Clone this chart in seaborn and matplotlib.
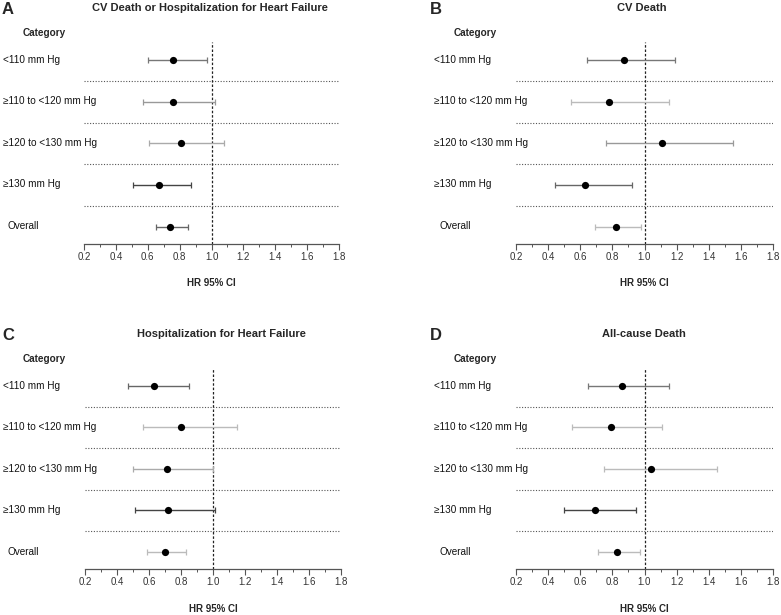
import matplotlib
matplotlib.use("Agg")
import matplotlib.pyplot as plt
import seaborn as sns
import pandas as pd
from matplotlib.ticker import MultipleLocator

categories = ["<110 mm Hg", "≥110 to <120 mm Hg", "≥120 to <130 mm Hg", "≥130 mm Hg", "Overall"]

panel_letters = ["A", "B", "C", "D"]
panel_titles = ["CV Death or Hospitalization for Heart Failure", "CV Death",
                "Hospitalization for Heart Failure", "All-cause Death"]

hr_a = [0.76, 0.76, 0.81, 0.67, 0.74]
lo_a = [0.60, 0.57, 0.61, 0.51, 0.65]
hi_a = [0.97, 1.02, 1.08, 0.87, 0.85]

hr_b = [0.87, 0.78, 1.11, 0.63, 0.82]
lo_b = [0.64, 0.54, 0.76, 0.44, 0.69]
hi_b = [1.19, 1.15, 1.55, 0.92, 0.98]

hr_c = [0.63, 0.80, 0.71, 0.72, 0.70]
lo_c = [0.47, 0.56, 0.50, 0.51, 0.59]
hi_c = [0.85, 1.15, 1.00, 1.01, 0.83]

hr_d = [0.86, 0.79, 1.04, 0.69, 0.83]
lo_d = [0.65, 0.55, 0.75, 0.50, 0.71]
hi_d = [1.15, 1.11, 1.45, 0.95, 0.97]

x_ticks = [0.2, 0.4, 0.6, 0.8, 1.0, 1.2, 1.4, 1.6, 1.8]
x_label = "HR 95% CI"
cat_header = "Category"

# style: CI line shades per panel
ci_colors = [
    ["#777777", "#999999", "#aaaaaa", "#444444", "#666666"],
    ["#777777", "#bbbbbb", "#999999", "#666666", "#bbbbbb"],
    ["#666666", "#bbbbbb", "#aaaaaa", "#444444", "#bbbbbb"],
    ["#777777", "#bbbbbb", "#bbbbbb", "#444444", "#bbbbbb"],
]

sns.set_theme(style="white")
plt.rcParams["font.family"] = ["Liberation Sans", "DejaVu Sans"]

W, H = 781, 615
fig = plt.figure(figsize=(W / 100, H / 100), dpi=100)

def fx(px):
    return px / W

def fy(py):
    return 1 - py / H

panels = [
    dict(x0=84, x1=339, yt=42, yb=244, lab_x=3, let_x=2, tcx=210, yo=0),
    dict(x0=516, x1=773, yt=42, yb=244, lab_x=434, let_x=430, tcx=642, yo=0),
    dict(x0=85, x1=341, yt=368, yb=569, lab_x=3, let_x=2, tcx=221, yo=326),
    dict(x0=516, x1=773, yt=368, yb=569, lab_x=434, let_x=430, tcx=644, yo=326),
]

data = [(hr_a, lo_a, hi_a), (hr_b, lo_b, hi_b), (hr_c, lo_c, hi_c), (hr_d, lo_d, hi_d)]

for i, (g, (hr, lo, hi)) in enumerate(zip(panels, data)):
    ax = fig.add_axes([fx(g["x0"]), fy(g["yb"]), fx(g["x1"] - g["x0"]), (g["yb"] - g["yt"]) / H])
    df = pd.DataFrame({"cat": categories, "pos": range(len(categories)), "hr": hr, "lo": lo, "hi": hi})
    ax.set_xlim(0.2, 1.8)
    ax.set_ylim(4.41, -0.43)
    for k in range(len(categories) - 1):
        ax.axhline(k + 0.5, color="#555555", lw=0.8, ls=(0, (1, 1.5)), zorder=1)
    ax.axvline(1.0, color="#222222", lw=0.9, ls=(0, (2, 1.5)), zorder=1)
    for k, row in df.iterrows():
        ax.errorbar(row["hr"], row["pos"], xerr=[[row["hr"] - row["lo"]], [row["hi"] - row["hr"]]],
                    fmt="none", ecolor=ci_colors[i][k], elinewidth=1.0, capsize=2.5, capthick=0.9, zorder=2)
    sns.scatterplot(data=df, x="hr", y="pos", ax=ax, color="black", s=27, edgecolor="black",
                    linewidth=0, zorder=3, legend=False)
    ax.set_xlabel("")
    ax.set_ylabel("")
    ax.set_yticks([])
    ax.set_xticks(x_ticks)
    ax.set_xticklabels([f"{t:.1f}" for t in x_ticks])
    ax.xaxis.set_minor_locator(MultipleLocator(0.1))
    for s in ["top", "right", "left"]:
        ax.spines[s].set_visible(False)
    ax.spines["bottom"].set_color("#555555")
    ax.spines["bottom"].set_linewidth(0.9)
    ax.tick_params(axis="x", which="major", direction="out", length=4, width=0.8, color="#555555",
                   labelsize=7, labelcolor="#333333", pad=1.5, bottom=True)
    ax.tick_params(axis="x", which="minor", direction="out", length=2, width=0.7, color="#555555", bottom=True)
    ax.patch.set_alpha(0)

    yo = g["yo"]
    row_y = [60, 101, 143, 184, 226]
    for k, c in enumerate(categories):
        dx = 5 if c == "Overall" else 0
        fig.text(fx(g["lab_x"] + dx), fy(row_y[k] + yo), c, fontsize=7.2, va="center", ha="left", color="#111111")
    fig.text(fx(g["lab_x"] + 20), fy(33 + yo), cat_header, fontsize=7.2, fontweight="bold", va="center", ha="left")
    fig.text(fx(g["let_x"]), fy(10 + yo), panel_letters[i], fontsize=12, fontweight="bold", va="center", ha="left")
    fig.text(fx(g["tcx"]), fy(8 + yo), panel_titles[i], fontsize=8, fontweight="bold", va="center", ha="center")
    fig.text(fx((g["x0"] + g["x1"]) / 2), fy(283 + yo), x_label, fontsize=7, fontweight="bold", va="center", ha="center")

fig.savefig("out.png", dpi=100, facecolor="white")
